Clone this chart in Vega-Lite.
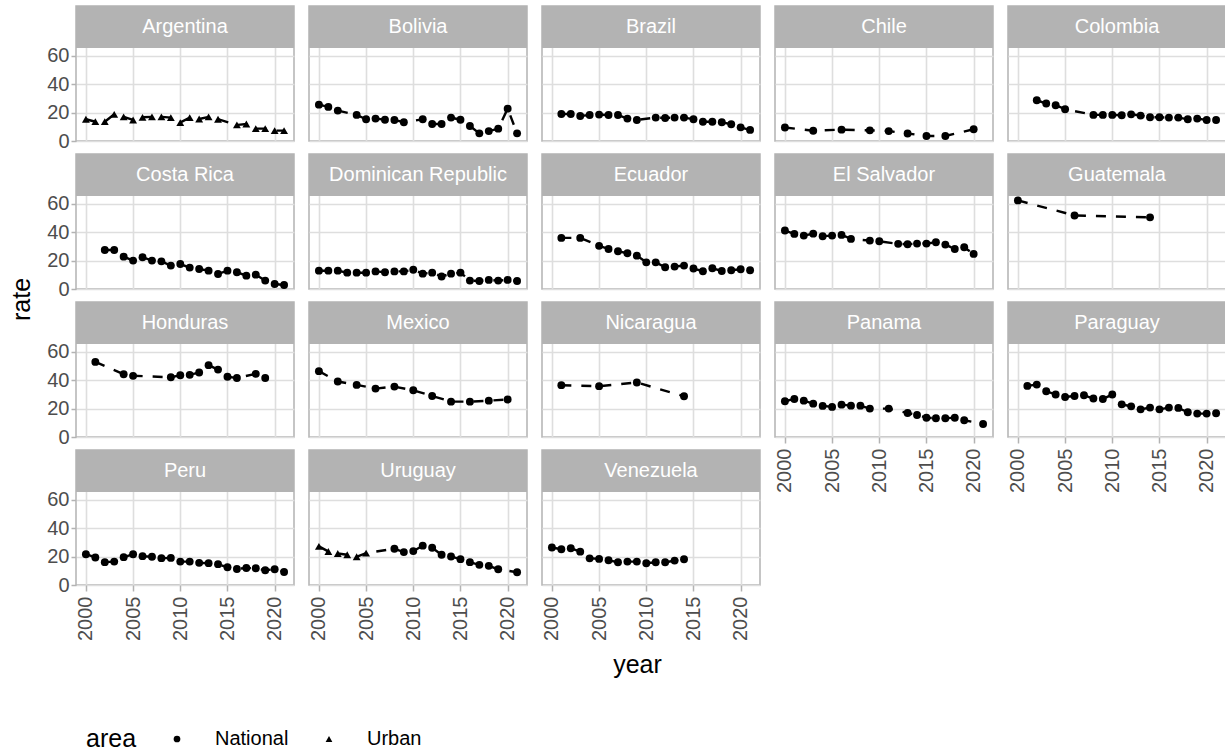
{
  "$schema": "https://vega.github.io/schema/vega-lite/v6.json",
  "background": "white",
  "padding": {"left": 9, "top": 5, "right": 0, "bottom": 0},
  "datasets": {
    "d": [
      {"country":"Argentina","year":2000,"rate":15.3,"area":"Urban"},
      {"country":"Argentina","year":2001,"rate":13.6,"area":"Urban"},
      {"country":"Argentina","year":2002,"rate":13.6,"area":"Urban"},
      {"country":"Argentina","year":2003,"rate":18.8,"area":"Urban"},
      {"country":"Argentina","year":2004,"rate":17.0,"area":"Urban"},
      {"country":"Argentina","year":2005,"rate":14.8,"area":"Urban"},
      {"country":"Argentina","year":2006,"rate":16.7,"area":"Urban"},
      {"country":"Argentina","year":2007,"rate":17.0,"area":"Urban"},
      {"country":"Argentina","year":2008,"rate":17.0,"area":"Urban"},
      {"country":"Argentina","year":2009,"rate":16.5,"area":"Urban"},
      {"country":"Argentina","year":2010,"rate":13.0,"area":"Urban"},
      {"country":"Argentina","year":2011,"rate":16.5,"area":"Urban"},
      {"country":"Argentina","year":2012,"rate":15.5,"area":"Urban"},
      {"country":"Argentina","year":2013,"rate":17.0,"area":"Urban"},
      {"country":"Argentina","year":2014,"rate":15.3,"area":"Urban"},
      {"country":"Argentina","year":2016,"rate":11.3,"area":"Urban"},
      {"country":"Argentina","year":2017,"rate":12.0,"area":"Urban"},
      {"country":"Argentina","year":2018,"rate":8.7,"area":"Urban"},
      {"country":"Argentina","year":2019,"rate":8.7,"area":"Urban"},
      {"country":"Argentina","year":2020,"rate":7.3,"area":"Urban"},
      {"country":"Argentina","year":2021,"rate":7.3,"area":"Urban"},
      {"country":"Bolivia","year":2000,"rate":25.6,"area":"National"},
      {"country":"Bolivia","year":2001,"rate":24.0,"area":"National"},
      {"country":"Bolivia","year":2002,"rate":21.4,"area":"National"},
      {"country":"Bolivia","year":2004,"rate":18.4,"area":"National"},
      {"country":"Bolivia","year":2005,"rate":15.3,"area":"National"},
      {"country":"Bolivia","year":2006,"rate":15.8,"area":"National"},
      {"country":"Bolivia","year":2007,"rate":15.0,"area":"National"},
      {"country":"Bolivia","year":2008,"rate":14.8,"area":"National"},
      {"country":"Bolivia","year":2009,"rate":13.2,"area":"National"},
      {"country":"Bolivia","year":2011,"rate":15.3,"area":"National"},
      {"country":"Bolivia","year":2012,"rate":12.0,"area":"National"},
      {"country":"Bolivia","year":2013,"rate":12.0,"area":"National"},
      {"country":"Bolivia","year":2014,"rate":16.5,"area":"National"},
      {"country":"Bolivia","year":2015,"rate":15.0,"area":"National"},
      {"country":"Bolivia","year":2016,"rate":10.6,"area":"National"},
      {"country":"Bolivia","year":2017,"rate":5.4,"area":"National"},
      {"country":"Bolivia","year":2018,"rate":7.0,"area":"National"},
      {"country":"Bolivia","year":2019,"rate":8.7,"area":"National"},
      {"country":"Bolivia","year":2020,"rate":22.8,"area":"National"},
      {"country":"Bolivia","year":2021,"rate":5.4,"area":"National"},
      {"country":"Brazil","year":2001,"rate":19.0,"area":"National"},
      {"country":"Brazil","year":2002,"rate":19.0,"area":"National"},
      {"country":"Brazil","year":2003,"rate":17.6,"area":"National"},
      {"country":"Brazil","year":2004,"rate":18.3,"area":"National"},
      {"country":"Brazil","year":2005,"rate":18.6,"area":"National"},
      {"country":"Brazil","year":2006,"rate":18.3,"area":"National"},
      {"country":"Brazil","year":2007,"rate":18.3,"area":"National"},
      {"country":"Brazil","year":2008,"rate":15.8,"area":"National"},
      {"country":"Brazil","year":2009,"rate":14.8,"area":"National"},
      {"country":"Brazil","year":2011,"rate":16.5,"area":"National"},
      {"country":"Brazil","year":2012,"rate":16.2,"area":"National"},
      {"country":"Brazil","year":2013,"rate":16.5,"area":"National"},
      {"country":"Brazil","year":2014,"rate":16.5,"area":"National"},
      {"country":"Brazil","year":2015,"rate":15.3,"area":"National"},
      {"country":"Brazil","year":2016,"rate":13.6,"area":"National"},
      {"country":"Brazil","year":2017,"rate":13.6,"area":"National"},
      {"country":"Brazil","year":2018,"rate":13.2,"area":"National"},
      {"country":"Brazil","year":2019,"rate":11.8,"area":"National"},
      {"country":"Brazil","year":2020,"rate":9.6,"area":"National"},
      {"country":"Brazil","year":2021,"rate":7.8,"area":"National"},
      {"country":"Chile","year":2000,"rate":9.5,"area":"National"},
      {"country":"Chile","year":2003,"rate":7.2,"area":"National"},
      {"country":"Chile","year":2006,"rate":8.0,"area":"National"},
      {"country":"Chile","year":2009,"rate":7.5,"area":"National"},
      {"country":"Chile","year":2011,"rate":7.0,"area":"National"},
      {"country":"Chile","year":2013,"rate":5.3,"area":"National"},
      {"country":"Chile","year":2015,"rate":3.5,"area":"National"},
      {"country":"Chile","year":2017,"rate":3.5,"area":"National"},
      {"country":"Chile","year":2020,"rate":8.3,"area":"National"},
      {"country":"Colombia","year":2002,"rate":28.7,"area":"National"},
      {"country":"Colombia","year":2003,"rate":26.4,"area":"National"},
      {"country":"Colombia","year":2004,"rate":25.2,"area":"National"},
      {"country":"Colombia","year":2005,"rate":22.4,"area":"National"},
      {"country":"Colombia","year":2008,"rate":18.4,"area":"National"},
      {"country":"Colombia","year":2009,"rate":18.4,"area":"National"},
      {"country":"Colombia","year":2010,"rate":18.4,"area":"National"},
      {"country":"Colombia","year":2011,"rate":18.1,"area":"National"},
      {"country":"Colombia","year":2012,"rate":18.8,"area":"National"},
      {"country":"Colombia","year":2013,"rate":17.9,"area":"National"},
      {"country":"Colombia","year":2014,"rate":16.7,"area":"National"},
      {"country":"Colombia","year":2015,"rate":16.7,"area":"National"},
      {"country":"Colombia","year":2016,"rate":16.5,"area":"National"},
      {"country":"Colombia","year":2017,"rate":16.5,"area":"National"},
      {"country":"Colombia","year":2018,"rate":15.3,"area":"National"},
      {"country":"Colombia","year":2019,"rate":15.8,"area":"National"},
      {"country":"Colombia","year":2020,"rate":14.8,"area":"National"},
      {"country":"Colombia","year":2021,"rate":14.8,"area":"National"},
      {"country":"Costa Rica","year":2002,"rate":27.5,"area":"National"},
      {"country":"Costa Rica","year":2003,"rate":27.5,"area":"National"},
      {"country":"Costa Rica","year":2004,"rate":22.8,"area":"National"},
      {"country":"Costa Rica","year":2005,"rate":20.0,"area":"National"},
      {"country":"Costa Rica","year":2006,"rate":22.4,"area":"National"},
      {"country":"Costa Rica","year":2007,"rate":20.0,"area":"National"},
      {"country":"Costa Rica","year":2008,"rate":19.5,"area":"National"},
      {"country":"Costa Rica","year":2009,"rate":16.5,"area":"National"},
      {"country":"Costa Rica","year":2010,"rate":17.6,"area":"National"},
      {"country":"Costa Rica","year":2011,"rate":15.1,"area":"National"},
      {"country":"Costa Rica","year":2012,"rate":14.1,"area":"National"},
      {"country":"Costa Rica","year":2013,"rate":12.9,"area":"National"},
      {"country":"Costa Rica","year":2014,"rate":10.6,"area":"National"},
      {"country":"Costa Rica","year":2015,"rate":12.9,"area":"National"},
      {"country":"Costa Rica","year":2016,"rate":11.8,"area":"National"},
      {"country":"Costa Rica","year":2017,"rate":9.4,"area":"National"},
      {"country":"Costa Rica","year":2018,"rate":10.1,"area":"National"},
      {"country":"Costa Rica","year":2019,"rate":5.9,"area":"National"},
      {"country":"Costa Rica","year":2020,"rate":3.5,"area":"National"},
      {"country":"Costa Rica","year":2021,"rate":2.8,"area":"National"},
      {"country":"Dominican Republic","year":2000,"rate":12.9,"area":"National"},
      {"country":"Dominican Republic","year":2001,"rate":12.9,"area":"National"},
      {"country":"Dominican Republic","year":2002,"rate":12.9,"area":"National"},
      {"country":"Dominican Republic","year":2003,"rate":11.5,"area":"National"},
      {"country":"Dominican Republic","year":2004,"rate":11.5,"area":"National"},
      {"country":"Dominican Republic","year":2005,"rate":11.5,"area":"National"},
      {"country":"Dominican Republic","year":2006,"rate":12.4,"area":"National"},
      {"country":"Dominican Republic","year":2007,"rate":11.8,"area":"National"},
      {"country":"Dominican Republic","year":2008,"rate":12.4,"area":"National"},
      {"country":"Dominican Republic","year":2009,"rate":12.4,"area":"National"},
      {"country":"Dominican Republic","year":2010,"rate":13.6,"area":"National"},
      {"country":"Dominican Republic","year":2011,"rate":10.8,"area":"National"},
      {"country":"Dominican Republic","year":2012,"rate":11.5,"area":"National"},
      {"country":"Dominican Republic","year":2013,"rate":8.8,"area":"National"},
      {"country":"Dominican Republic","year":2014,"rate":10.8,"area":"National"},
      {"country":"Dominican Republic","year":2015,"rate":11.5,"area":"National"},
      {"country":"Dominican Republic","year":2016,"rate":5.9,"area":"National"},
      {"country":"Dominican Republic","year":2017,"rate":5.6,"area":"National"},
      {"country":"Dominican Republic","year":2018,"rate":6.4,"area":"National"},
      {"country":"Dominican Republic","year":2019,"rate":5.9,"area":"National"},
      {"country":"Dominican Republic","year":2020,"rate":6.4,"area":"National"},
      {"country":"Dominican Republic","year":2021,"rate":5.6,"area":"National"},
      {"country":"Ecuador","year":2001,"rate":36.0,"area":"National"},
      {"country":"Ecuador","year":2003,"rate":36.0,"area":"National"},
      {"country":"Ecuador","year":2005,"rate":30.4,"area":"National"},
      {"country":"Ecuador","year":2006,"rate":28.2,"area":"National"},
      {"country":"Ecuador","year":2007,"rate":26.6,"area":"National"},
      {"country":"Ecuador","year":2008,"rate":25.2,"area":"National"},
      {"country":"Ecuador","year":2009,"rate":23.5,"area":"National"},
      {"country":"Ecuador","year":2010,"rate":18.8,"area":"National"},
      {"country":"Ecuador","year":2011,"rate":18.8,"area":"National"},
      {"country":"Ecuador","year":2012,"rate":15.3,"area":"National"},
      {"country":"Ecuador","year":2013,"rate":15.8,"area":"National"},
      {"country":"Ecuador","year":2014,"rate":16.5,"area":"National"},
      {"country":"Ecuador","year":2015,"rate":14.4,"area":"National"},
      {"country":"Ecuador","year":2016,"rate":12.5,"area":"National"},
      {"country":"Ecuador","year":2017,"rate":14.6,"area":"National"},
      {"country":"Ecuador","year":2018,"rate":12.7,"area":"National"},
      {"country":"Ecuador","year":2019,"rate":13.2,"area":"National"},
      {"country":"Ecuador","year":2020,"rate":13.9,"area":"National"},
      {"country":"Ecuador","year":2021,"rate":13.2,"area":"National"},
      {"country":"El Salvador","year":2000,"rate":41.2,"area":"National"},
      {"country":"El Salvador","year":2001,"rate":38.8,"area":"National"},
      {"country":"El Salvador","year":2002,"rate":37.6,"area":"National"},
      {"country":"El Salvador","year":2003,"rate":39.0,"area":"National"},
      {"country":"El Salvador","year":2004,"rate":37.2,"area":"National"},
      {"country":"El Salvador","year":2005,"rate":37.6,"area":"National"},
      {"country":"El Salvador","year":2006,"rate":38.1,"area":"National"},
      {"country":"El Salvador","year":2007,"rate":35.3,"area":"National"},
      {"country":"El Salvador","year":2009,"rate":34.1,"area":"National"},
      {"country":"El Salvador","year":2010,"rate":33.6,"area":"National"},
      {"country":"El Salvador","year":2012,"rate":31.8,"area":"National"},
      {"country":"El Salvador","year":2013,"rate":31.5,"area":"National"},
      {"country":"El Salvador","year":2014,"rate":32.0,"area":"National"},
      {"country":"El Salvador","year":2015,"rate":32.0,"area":"National"},
      {"country":"El Salvador","year":2016,"rate":32.9,"area":"National"},
      {"country":"El Salvador","year":2017,"rate":31.3,"area":"National"},
      {"country":"El Salvador","year":2018,"rate":28.2,"area":"National"},
      {"country":"El Salvador","year":2019,"rate":29.4,"area":"National"},
      {"country":"El Salvador","year":2020,"rate":24.7,"area":"National"},
      {"country":"Guatemala","year":2000,"rate":62.4,"area":"National"},
      {"country":"Guatemala","year":2006,"rate":51.8,"area":"National"},
      {"country":"Guatemala","year":2014,"rate":50.5,"area":"National"},
      {"country":"Honduras","year":2001,"rate":52.9,"area":"National"},
      {"country":"Honduras","year":2004,"rate":44.2,"area":"National"},
      {"country":"Honduras","year":2005,"rate":43.1,"area":"National"},
      {"country":"Honduras","year":2009,"rate":42.1,"area":"National"},
      {"country":"Honduras","year":2010,"rate":43.5,"area":"National"},
      {"country":"Honduras","year":2011,"rate":43.8,"area":"National"},
      {"country":"Honduras","year":2012,"rate":45.4,"area":"National"},
      {"country":"Honduras","year":2013,"rate":50.6,"area":"National"},
      {"country":"Honduras","year":2014,"rate":47.5,"area":"National"},
      {"country":"Honduras","year":2015,"rate":42.4,"area":"National"},
      {"country":"Honduras","year":2016,"rate":41.6,"area":"National"},
      {"country":"Honduras","year":2018,"rate":44.5,"area":"National"},
      {"country":"Honduras","year":2019,"rate":41.6,"area":"National"},
      {"country":"Mexico","year":2000,"rate":46.4,"area":"National"},
      {"country":"Mexico","year":2002,"rate":39.1,"area":"National"},
      {"country":"Mexico","year":2004,"rate":36.7,"area":"National"},
      {"country":"Mexico","year":2006,"rate":34.1,"area":"National"},
      {"country":"Mexico","year":2008,"rate":35.5,"area":"National"},
      {"country":"Mexico","year":2010,"rate":32.9,"area":"National"},
      {"country":"Mexico","year":2012,"rate":28.9,"area":"National"},
      {"country":"Mexico","year":2014,"rate":24.9,"area":"National"},
      {"country":"Mexico","year":2016,"rate":24.9,"area":"National"},
      {"country":"Mexico","year":2018,"rate":25.6,"area":"National"},
      {"country":"Mexico","year":2020,"rate":26.4,"area":"National"},
      {"country":"Nicaragua","year":2001,"rate":36.5,"area":"National"},
      {"country":"Nicaragua","year":2005,"rate":35.8,"area":"National"},
      {"country":"Nicaragua","year":2009,"rate":38.4,"area":"National"},
      {"country":"Nicaragua","year":2014,"rate":28.7,"area":"National"},
      {"country":"Panama","year":2000,"rate":25.2,"area":"National"},
      {"country":"Panama","year":2001,"rate":26.8,"area":"National"},
      {"country":"Panama","year":2002,"rate":25.6,"area":"National"},
      {"country":"Panama","year":2003,"rate":23.5,"area":"National"},
      {"country":"Panama","year":2004,"rate":21.9,"area":"National"},
      {"country":"Panama","year":2005,"rate":21.2,"area":"National"},
      {"country":"Panama","year":2006,"rate":22.8,"area":"National"},
      {"country":"Panama","year":2007,"rate":22.1,"area":"National"},
      {"country":"Panama","year":2008,"rate":22.1,"area":"National"},
      {"country":"Panama","year":2009,"rate":20.0,"area":"National"},
      {"country":"Panama","year":2011,"rate":20.0,"area":"National"},
      {"country":"Panama","year":2013,"rate":16.9,"area":"National"},
      {"country":"Panama","year":2014,"rate":15.5,"area":"National"},
      {"country":"Panama","year":2015,"rate":13.6,"area":"National"},
      {"country":"Panama","year":2016,"rate":13.2,"area":"National"},
      {"country":"Panama","year":2017,"rate":13.2,"area":"National"},
      {"country":"Panama","year":2018,"rate":13.6,"area":"National"},
      {"country":"Panama","year":2019,"rate":11.8,"area":"National"},
      {"country":"Panama","year":2021,"rate":9.2,"area":"National"},
      {"country":"Paraguay","year":2001,"rate":36.0,"area":"National"},
      {"country":"Paraguay","year":2002,"rate":36.9,"area":"National"},
      {"country":"Paraguay","year":2003,"rate":32.2,"area":"National"},
      {"country":"Paraguay","year":2004,"rate":29.9,"area":"National"},
      {"country":"Paraguay","year":2005,"rate":28.2,"area":"National"},
      {"country":"Paraguay","year":2006,"rate":28.9,"area":"National"},
      {"country":"Paraguay","year":2007,"rate":29.4,"area":"National"},
      {"country":"Paraguay","year":2008,"rate":27.1,"area":"National"},
      {"country":"Paraguay","year":2009,"rate":26.8,"area":"National"},
      {"country":"Paraguay","year":2010,"rate":29.9,"area":"National"},
      {"country":"Paraguay","year":2011,"rate":23.0,"area":"National"},
      {"country":"Paraguay","year":2012,"rate":21.6,"area":"National"},
      {"country":"Paraguay","year":2013,"rate":19.5,"area":"National"},
      {"country":"Paraguay","year":2014,"rate":20.7,"area":"National"},
      {"country":"Paraguay","year":2015,"rate":19.5,"area":"National"},
      {"country":"Paraguay","year":2016,"rate":20.7,"area":"National"},
      {"country":"Paraguay","year":2017,"rate":20.5,"area":"National"},
      {"country":"Paraguay","year":2018,"rate":17.4,"area":"National"},
      {"country":"Paraguay","year":2019,"rate":16.5,"area":"National"},
      {"country":"Paraguay","year":2020,"rate":16.5,"area":"National"},
      {"country":"Paraguay","year":2021,"rate":16.7,"area":"National"},
      {"country":"Peru","year":2000,"rate":21.7,"area":"National"},
      {"country":"Peru","year":2001,"rate":19.4,"area":"National"},
      {"country":"Peru","year":2002,"rate":16.1,"area":"National"},
      {"country":"Peru","year":2003,"rate":16.5,"area":"National"},
      {"country":"Peru","year":2004,"rate":19.6,"area":"National"},
      {"country":"Peru","year":2005,"rate":21.7,"area":"National"},
      {"country":"Peru","year":2006,"rate":20.3,"area":"National"},
      {"country":"Peru","year":2007,"rate":19.9,"area":"National"},
      {"country":"Peru","year":2008,"rate":18.9,"area":"National"},
      {"country":"Peru","year":2009,"rate":19.1,"area":"National"},
      {"country":"Peru","year":2010,"rate":16.5,"area":"National"},
      {"country":"Peru","year":2011,"rate":16.5,"area":"National"},
      {"country":"Peru","year":2012,"rate":15.6,"area":"National"},
      {"country":"Peru","year":2013,"rate":15.4,"area":"National"},
      {"country":"Peru","year":2014,"rate":14.7,"area":"National"},
      {"country":"Peru","year":2015,"rate":12.5,"area":"National"},
      {"country":"Peru","year":2016,"rate":11.3,"area":"National"},
      {"country":"Peru","year":2017,"rate":12.0,"area":"National"},
      {"country":"Peru","year":2018,"rate":11.8,"area":"National"},
      {"country":"Peru","year":2019,"rate":10.4,"area":"National"},
      {"country":"Peru","year":2020,"rate":11.1,"area":"National"},
      {"country":"Peru","year":2021,"rate":9.2,"area":"National"},
      {"country":"Uruguay","year":2000,"rate":27.2,"area":"Urban"},
      {"country":"Uruguay","year":2001,"rate":23.6,"area":"Urban"},
      {"country":"Uruguay","year":2002,"rate":22.2,"area":"Urban"},
      {"country":"Uruguay","year":2003,"rate":21.3,"area":"Urban"},
      {"country":"Uruguay","year":2004,"rate":19.9,"area":"Urban"},
      {"country":"Uruguay","year":2005,"rate":22.5,"area":"Urban"},
      {"country":"Uruguay","year":2008,"rate":25.5,"area":"National"},
      {"country":"Uruguay","year":2009,"rate":23.2,"area":"National"},
      {"country":"Uruguay","year":2010,"rate":23.9,"area":"National"},
      {"country":"Uruguay","year":2011,"rate":27.7,"area":"National"},
      {"country":"Uruguay","year":2012,"rate":26.2,"area":"National"},
      {"country":"Uruguay","year":2013,"rate":21.3,"area":"National"},
      {"country":"Uruguay","year":2014,"rate":20.1,"area":"National"},
      {"country":"Uruguay","year":2015,"rate":18.2,"area":"National"},
      {"country":"Uruguay","year":2016,"rate":16.1,"area":"National"},
      {"country":"Uruguay","year":2017,"rate":14.2,"area":"National"},
      {"country":"Uruguay","year":2018,"rate":13.5,"area":"National"},
      {"country":"Uruguay","year":2019,"rate":11.1,"area":"National"},
      {"country":"Uruguay","year":2021,"rate":9.0,"area":"National"},
      {"country":"Venezuela","year":2000,"rate":26.4,"area":"National"},
      {"country":"Venezuela","year":2001,"rate":25.2,"area":"National"},
      {"country":"Venezuela","year":2002,"rate":25.9,"area":"National"},
      {"country":"Venezuela","year":2003,"rate":23.5,"area":"National"},
      {"country":"Venezuela","year":2004,"rate":18.8,"area":"National"},
      {"country":"Venezuela","year":2005,"rate":18.4,"area":"National"},
      {"country":"Venezuela","year":2006,"rate":17.4,"area":"National"},
      {"country":"Venezuela","year":2007,"rate":16.0,"area":"National"},
      {"country":"Venezuela","year":2008,"rate":16.5,"area":"National"},
      {"country":"Venezuela","year":2009,"rate":16.5,"area":"National"},
      {"country":"Venezuela","year":2010,"rate":15.3,"area":"National"},
      {"country":"Venezuela","year":2011,"rate":16.0,"area":"National"},
      {"country":"Venezuela","year":2012,"rate":16.0,"area":"National"},
      {"country":"Venezuela","year":2013,"rate":17.2,"area":"National"},
      {"country":"Venezuela","year":2014,"rate":18.1,"area":"National"}
    ]
  },
  "columns": 5,
  "bounds": "flush",
  "spacing": {"row": 13, "column": 15},
  "resolve": {"scale": {"shape": "shared"}, "legend": {"shape": "shared"}},
  "concat": [
    {"width":218,"height":135,"layer":[
      {"data":{"values":[{"country":"Argentina"}]},"layer":[
        {"mark":"rect","encoding":{"x":{"datum":1998.95,"type":"quantitative"},"x2":{"datum":2022.05},"y":{"datum":65.5,"type":"quantitative"},"y2":{"datum":95.1}}},
        {"mark":"text","encoding":{"x":{"datum":2010.5,"type":"quantitative"},"y":{"datum":80.3,"type":"quantitative"},"text":{"field":"country"}}}]},
      {"data":{"name":"d"},"transform":[{"filter":"datum.country === 'Argentina'"}],
       "encoding":{"x":{"field":"year","type":"quantitative","title":null,"scale":{"domain":[1998.95,2022.05],"nice":false,"zero":false},"axis":{"grid":true,"values":[2000,2002.5,2005,2007.5,2010,2012.5,2015,2017.5,2020],"labels":false,"ticks":false,"gridWidth":{"condition":{"test":"datum.value % 5 !== 0","value":0.8},"value":1.6}}},
                   "y":{"field":"rate","type":"quantitative","title":null,"scale":{"domain":[0,95.1],"nice":false,"zero":false},"axis":{"grid":true,"values":[0,10,20,30,40,50,60],"labelExpr":"datum.value % 20 === 0 ? datum.label : ''","tickOpacity":{"condition":{"test":"datum.value % 20 !== 0","value":0},"value":1},"gridWidth":{"condition":{"test":"datum.value % 20 !== 0","value":0.8},"value":1.6}}}},
       "layer":[{"mark":"line","encoding":{}},
                {"mark":"point","encoding":{"shape":{"field":"area","type":"nominal","title":"area","scale":{"domain":["National","Urban"],"range":["circle","triangle-up"]},"legend":{"orient":"none","legendX":10,"legendY":723,"direction":"horizontal","titleOrient":"left"}}}}]}
    ]},
    {"width":218,"height":135,"layer":[
      {"data":{"values":[{"country":"Bolivia"}]},"layer":[
        {"mark":"rect","encoding":{"x":{"datum":1998.95,"type":"quantitative"},"x2":{"datum":2022.05},"y":{"datum":65.5,"type":"quantitative"},"y2":{"datum":95.1}}},
        {"mark":"text","encoding":{"x":{"datum":2010.5,"type":"quantitative"},"y":{"datum":80.3,"type":"quantitative"},"text":{"field":"country"}}}]},
      {"data":{"name":"d"},"transform":[{"filter":"datum.country === 'Bolivia'"}],
       "encoding":{"x":{"field":"year","type":"quantitative","title":null,"scale":{"domain":[1998.95,2022.05],"nice":false,"zero":false},"axis":{"grid":true,"values":[2000,2002.5,2005,2007.5,2010,2012.5,2015,2017.5,2020],"labels":false,"ticks":false,"gridWidth":{"condition":{"test":"datum.value % 5 !== 0","value":0.8},"value":1.6}}},
                   "y":{"field":"rate","type":"quantitative","title":null,"scale":{"domain":[0,95.1],"nice":false,"zero":false},"axis":{"grid":true,"values":[0,10,20,30,40,50,60],"labels":false,"ticks":false,"gridWidth":{"condition":{"test":"datum.value % 20 !== 0","value":0.8},"value":1.6}}}},
       "layer":[{"mark":"line","encoding":{}},
                {"mark":"point","encoding":{"shape":{"field":"area","type":"nominal","title":"area","scale":{"domain":["National","Urban"],"range":["circle","triangle-up"]},"legend":{"orient":"none","legendX":10,"legendY":723,"direction":"horizontal","titleOrient":"left"}}}}]}
    ]},
    {"width":218,"height":135,"layer":[
      {"data":{"values":[{"country":"Brazil"}]},"layer":[
        {"mark":"rect","encoding":{"x":{"datum":1998.95,"type":"quantitative"},"x2":{"datum":2022.05},"y":{"datum":65.5,"type":"quantitative"},"y2":{"datum":95.1}}},
        {"mark":"text","encoding":{"x":{"datum":2010.5,"type":"quantitative"},"y":{"datum":80.3,"type":"quantitative"},"text":{"field":"country"}}}]},
      {"data":{"name":"d"},"transform":[{"filter":"datum.country === 'Brazil'"}],
       "encoding":{"x":{"field":"year","type":"quantitative","title":null,"scale":{"domain":[1998.95,2022.05],"nice":false,"zero":false},"axis":{"grid":true,"values":[2000,2002.5,2005,2007.5,2010,2012.5,2015,2017.5,2020],"labels":false,"ticks":false,"gridWidth":{"condition":{"test":"datum.value % 5 !== 0","value":0.8},"value":1.6}}},
                   "y":{"field":"rate","type":"quantitative","title":null,"scale":{"domain":[0,95.1],"nice":false,"zero":false},"axis":{"grid":true,"values":[0,10,20,30,40,50,60],"labels":false,"ticks":false,"gridWidth":{"condition":{"test":"datum.value % 20 !== 0","value":0.8},"value":1.6}}}},
       "layer":[{"mark":"line","encoding":{}},
                {"mark":"point","encoding":{"shape":{"field":"area","type":"nominal","title":"area","scale":{"domain":["National","Urban"],"range":["circle","triangle-up"]},"legend":{"orient":"none","legendX":10,"legendY":723,"direction":"horizontal","titleOrient":"left"}}}}]}
    ]},
    {"width":218,"height":135,"layer":[
      {"data":{"values":[{"country":"Chile"}]},"layer":[
        {"mark":"rect","encoding":{"x":{"datum":1998.95,"type":"quantitative"},"x2":{"datum":2022.05},"y":{"datum":65.5,"type":"quantitative"},"y2":{"datum":95.1}}},
        {"mark":"text","encoding":{"x":{"datum":2010.5,"type":"quantitative"},"y":{"datum":80.3,"type":"quantitative"},"text":{"field":"country"}}}]},
      {"data":{"name":"d"},"transform":[{"filter":"datum.country === 'Chile'"}],
       "encoding":{"x":{"field":"year","type":"quantitative","title":null,"scale":{"domain":[1998.95,2022.05],"nice":false,"zero":false},"axis":{"grid":true,"values":[2000,2002.5,2005,2007.5,2010,2012.5,2015,2017.5,2020],"labels":false,"ticks":false,"gridWidth":{"condition":{"test":"datum.value % 5 !== 0","value":0.8},"value":1.6}}},
                   "y":{"field":"rate","type":"quantitative","title":null,"scale":{"domain":[0,95.1],"nice":false,"zero":false},"axis":{"grid":true,"values":[0,10,20,30,40,50,60],"labels":false,"ticks":false,"gridWidth":{"condition":{"test":"datum.value % 20 !== 0","value":0.8},"value":1.6}}}},
       "layer":[{"mark":"line","encoding":{}},
                {"mark":"point","encoding":{"shape":{"field":"area","type":"nominal","title":"area","scale":{"domain":["National","Urban"],"range":["circle","triangle-up"]},"legend":{"orient":"none","legendX":10,"legendY":723,"direction":"horizontal","titleOrient":"left"}}}}]}
    ]},
    {"width":218,"height":135,"layer":[
      {"data":{"values":[{"country":"Colombia"}]},"layer":[
        {"mark":"rect","encoding":{"x":{"datum":1998.95,"type":"quantitative"},"x2":{"datum":2022.05},"y":{"datum":65.5,"type":"quantitative"},"y2":{"datum":95.1}}},
        {"mark":"text","encoding":{"x":{"datum":2010.5,"type":"quantitative"},"y":{"datum":80.3,"type":"quantitative"},"text":{"field":"country"}}}]},
      {"data":{"name":"d"},"transform":[{"filter":"datum.country === 'Colombia'"}],
       "encoding":{"x":{"field":"year","type":"quantitative","title":null,"scale":{"domain":[1998.95,2022.05],"nice":false,"zero":false},"axis":{"grid":true,"values":[2000,2002.5,2005,2007.5,2010,2012.5,2015,2017.5,2020],"labels":false,"ticks":false,"gridWidth":{"condition":{"test":"datum.value % 5 !== 0","value":0.8},"value":1.6}}},
                   "y":{"field":"rate","type":"quantitative","title":null,"scale":{"domain":[0,95.1],"nice":false,"zero":false},"axis":{"grid":true,"values":[0,10,20,30,40,50,60],"labels":false,"ticks":false,"gridWidth":{"condition":{"test":"datum.value % 20 !== 0","value":0.8},"value":1.6}}}},
       "layer":[{"mark":"line","encoding":{}},
                {"mark":"point","encoding":{"shape":{"field":"area","type":"nominal","title":"area","scale":{"domain":["National","Urban"],"range":["circle","triangle-up"]},"legend":{"orient":"none","legendX":10,"legendY":723,"direction":"horizontal","titleOrient":"left"}}}}]}
    ]},
    {"width":218,"height":135,"layer":[
      {"data":{"values":[{"country":"Costa Rica"}]},"layer":[
        {"mark":"rect","encoding":{"x":{"datum":1998.95,"type":"quantitative"},"x2":{"datum":2022.05},"y":{"datum":65.5,"type":"quantitative"},"y2":{"datum":95.1}}},
        {"mark":"text","encoding":{"x":{"datum":2010.5,"type":"quantitative"},"y":{"datum":80.3,"type":"quantitative"},"text":{"field":"country"}}}]},
      {"data":{"name":"d"},"transform":[{"filter":"datum.country === 'Costa Rica'"}],
       "encoding":{"x":{"field":"year","type":"quantitative","title":null,"scale":{"domain":[1998.95,2022.05],"nice":false,"zero":false},"axis":{"grid":true,"values":[2000,2002.5,2005,2007.5,2010,2012.5,2015,2017.5,2020],"labels":false,"ticks":false,"gridWidth":{"condition":{"test":"datum.value % 5 !== 0","value":0.8},"value":1.6}}},
                   "y":{"field":"rate","type":"quantitative","title":"rate","scale":{"domain":[0,95.1],"nice":false,"zero":false},"axis":{"grid":true,"values":[0,10,20,30,40,50,60],"labelExpr":"datum.value % 20 === 0 ? datum.label : ''","tickOpacity":{"condition":{"test":"datum.value % 20 !== 0","value":0},"value":1},"gridWidth":{"condition":{"test":"datum.value % 20 !== 0","value":0.8},"value":1.6},"titleY":145,"titlePadding":12}}},
       "layer":[{"mark":"line","encoding":{}},
                {"mark":"point","encoding":{"shape":{"field":"area","type":"nominal","title":"area","scale":{"domain":["National","Urban"],"range":["circle","triangle-up"]},"legend":{"orient":"none","legendX":10,"legendY":723,"direction":"horizontal","titleOrient":"left"}}}}]}
    ]},
    {"width":218,"height":135,"layer":[
      {"data":{"values":[{"country":"Dominican Republic"}]},"layer":[
        {"mark":"rect","encoding":{"x":{"datum":1998.95,"type":"quantitative"},"x2":{"datum":2022.05},"y":{"datum":65.5,"type":"quantitative"},"y2":{"datum":95.1}}},
        {"mark":"text","encoding":{"x":{"datum":2010.5,"type":"quantitative"},"y":{"datum":80.3,"type":"quantitative"},"text":{"field":"country"}}}]},
      {"data":{"name":"d"},"transform":[{"filter":"datum.country === 'Dominican Republic'"}],
       "encoding":{"x":{"field":"year","type":"quantitative","title":null,"scale":{"domain":[1998.95,2022.05],"nice":false,"zero":false},"axis":{"grid":true,"values":[2000,2002.5,2005,2007.5,2010,2012.5,2015,2017.5,2020],"labels":false,"ticks":false,"gridWidth":{"condition":{"test":"datum.value % 5 !== 0","value":0.8},"value":1.6}}},
                   "y":{"field":"rate","type":"quantitative","title":null,"scale":{"domain":[0,95.1],"nice":false,"zero":false},"axis":{"grid":true,"values":[0,10,20,30,40,50,60],"labels":false,"ticks":false,"gridWidth":{"condition":{"test":"datum.value % 20 !== 0","value":0.8},"value":1.6}}}},
       "layer":[{"mark":"line","encoding":{}},
                {"mark":"point","encoding":{"shape":{"field":"area","type":"nominal","title":"area","scale":{"domain":["National","Urban"],"range":["circle","triangle-up"]},"legend":{"orient":"none","legendX":10,"legendY":723,"direction":"horizontal","titleOrient":"left"}}}}]}
    ]},
    {"width":218,"height":135,"layer":[
      {"data":{"values":[{"country":"Ecuador"}]},"layer":[
        {"mark":"rect","encoding":{"x":{"datum":1998.95,"type":"quantitative"},"x2":{"datum":2022.05},"y":{"datum":65.5,"type":"quantitative"},"y2":{"datum":95.1}}},
        {"mark":"text","encoding":{"x":{"datum":2010.5,"type":"quantitative"},"y":{"datum":80.3,"type":"quantitative"},"text":{"field":"country"}}}]},
      {"data":{"name":"d"},"transform":[{"filter":"datum.country === 'Ecuador'"}],
       "encoding":{"x":{"field":"year","type":"quantitative","title":null,"scale":{"domain":[1998.95,2022.05],"nice":false,"zero":false},"axis":{"grid":true,"values":[2000,2002.5,2005,2007.5,2010,2012.5,2015,2017.5,2020],"labels":false,"ticks":false,"gridWidth":{"condition":{"test":"datum.value % 5 !== 0","value":0.8},"value":1.6}}},
                   "y":{"field":"rate","type":"quantitative","title":null,"scale":{"domain":[0,95.1],"nice":false,"zero":false},"axis":{"grid":true,"values":[0,10,20,30,40,50,60],"labels":false,"ticks":false,"gridWidth":{"condition":{"test":"datum.value % 20 !== 0","value":0.8},"value":1.6}}}},
       "layer":[{"mark":"line","encoding":{}},
                {"mark":"point","encoding":{"shape":{"field":"area","type":"nominal","title":"area","scale":{"domain":["National","Urban"],"range":["circle","triangle-up"]},"legend":{"orient":"none","legendX":10,"legendY":723,"direction":"horizontal","titleOrient":"left"}}}}]}
    ]},
    {"width":218,"height":135,"layer":[
      {"data":{"values":[{"country":"El Salvador"}]},"layer":[
        {"mark":"rect","encoding":{"x":{"datum":1998.95,"type":"quantitative"},"x2":{"datum":2022.05},"y":{"datum":65.5,"type":"quantitative"},"y2":{"datum":95.1}}},
        {"mark":"text","encoding":{"x":{"datum":2010.5,"type":"quantitative"},"y":{"datum":80.3,"type":"quantitative"},"text":{"field":"country"}}}]},
      {"data":{"name":"d"},"transform":[{"filter":"datum.country === 'El Salvador'"}],
       "encoding":{"x":{"field":"year","type":"quantitative","title":null,"scale":{"domain":[1998.95,2022.05],"nice":false,"zero":false},"axis":{"grid":true,"values":[2000,2002.5,2005,2007.5,2010,2012.5,2015,2017.5,2020],"labels":false,"ticks":false,"gridWidth":{"condition":{"test":"datum.value % 5 !== 0","value":0.8},"value":1.6}}},
                   "y":{"field":"rate","type":"quantitative","title":null,"scale":{"domain":[0,95.1],"nice":false,"zero":false},"axis":{"grid":true,"values":[0,10,20,30,40,50,60],"labels":false,"ticks":false,"gridWidth":{"condition":{"test":"datum.value % 20 !== 0","value":0.8},"value":1.6}}}},
       "layer":[{"mark":"line","encoding":{}},
                {"mark":"point","encoding":{"shape":{"field":"area","type":"nominal","title":"area","scale":{"domain":["National","Urban"],"range":["circle","triangle-up"]},"legend":{"orient":"none","legendX":10,"legendY":723,"direction":"horizontal","titleOrient":"left"}}}}]}
    ]},
    {"width":218,"height":135,"layer":[
      {"data":{"values":[{"country":"Guatemala"}]},"layer":[
        {"mark":"rect","encoding":{"x":{"datum":1998.95,"type":"quantitative"},"x2":{"datum":2022.05},"y":{"datum":65.5,"type":"quantitative"},"y2":{"datum":95.1}}},
        {"mark":"text","encoding":{"x":{"datum":2010.5,"type":"quantitative"},"y":{"datum":80.3,"type":"quantitative"},"text":{"field":"country"}}}]},
      {"data":{"name":"d"},"transform":[{"filter":"datum.country === 'Guatemala'"}],
       "encoding":{"x":{"field":"year","type":"quantitative","title":null,"scale":{"domain":[1998.95,2022.05],"nice":false,"zero":false},"axis":{"grid":true,"values":[2000,2002.5,2005,2007.5,2010,2012.5,2015,2017.5,2020],"labels":false,"ticks":false,"gridWidth":{"condition":{"test":"datum.value % 5 !== 0","value":0.8},"value":1.6}}},
                   "y":{"field":"rate","type":"quantitative","title":null,"scale":{"domain":[0,95.1],"nice":false,"zero":false},"axis":{"grid":true,"values":[0,10,20,30,40,50,60],"labels":false,"ticks":false,"gridWidth":{"condition":{"test":"datum.value % 20 !== 0","value":0.8},"value":1.6}}}},
       "layer":[{"mark":"line","encoding":{}},
                {"mark":"point","encoding":{"shape":{"field":"area","type":"nominal","title":"area","scale":{"domain":["National","Urban"],"range":["circle","triangle-up"]},"legend":{"orient":"none","legendX":10,"legendY":723,"direction":"horizontal","titleOrient":"left"}}}}]}
    ]},
    {"width":218,"height":135,"layer":[
      {"data":{"values":[{"country":"Honduras"}]},"layer":[
        {"mark":"rect","encoding":{"x":{"datum":1998.95,"type":"quantitative"},"x2":{"datum":2022.05},"y":{"datum":65.5,"type":"quantitative"},"y2":{"datum":95.1}}},
        {"mark":"text","encoding":{"x":{"datum":2010.5,"type":"quantitative"},"y":{"datum":80.3,"type":"quantitative"},"text":{"field":"country"}}}]},
      {"data":{"name":"d"},"transform":[{"filter":"datum.country === 'Honduras'"}],
       "encoding":{"x":{"field":"year","type":"quantitative","title":null,"scale":{"domain":[1998.95,2022.05],"nice":false,"zero":false},"axis":{"grid":true,"values":[2000,2002.5,2005,2007.5,2010,2012.5,2015,2017.5,2020],"labels":false,"ticks":false,"gridWidth":{"condition":{"test":"datum.value % 5 !== 0","value":0.8},"value":1.6}}},
                   "y":{"field":"rate","type":"quantitative","title":null,"scale":{"domain":[0,95.1],"nice":false,"zero":false},"axis":{"grid":true,"values":[0,10,20,30,40,50,60],"labelExpr":"datum.value % 20 === 0 ? datum.label : ''","tickOpacity":{"condition":{"test":"datum.value % 20 !== 0","value":0},"value":1},"gridWidth":{"condition":{"test":"datum.value % 20 !== 0","value":0.8},"value":1.6}}}},
       "layer":[{"mark":"line","encoding":{}},
                {"mark":"point","encoding":{"shape":{"field":"area","type":"nominal","title":"area","scale":{"domain":["National","Urban"],"range":["circle","triangle-up"]},"legend":{"orient":"none","legendX":10,"legendY":723,"direction":"horizontal","titleOrient":"left"}}}}]}
    ]},
    {"width":218,"height":135,"layer":[
      {"data":{"values":[{"country":"Mexico"}]},"layer":[
        {"mark":"rect","encoding":{"x":{"datum":1998.95,"type":"quantitative"},"x2":{"datum":2022.05},"y":{"datum":65.5,"type":"quantitative"},"y2":{"datum":95.1}}},
        {"mark":"text","encoding":{"x":{"datum":2010.5,"type":"quantitative"},"y":{"datum":80.3,"type":"quantitative"},"text":{"field":"country"}}}]},
      {"data":{"name":"d"},"transform":[{"filter":"datum.country === 'Mexico'"}],
       "encoding":{"x":{"field":"year","type":"quantitative","title":null,"scale":{"domain":[1998.95,2022.05],"nice":false,"zero":false},"axis":{"grid":true,"values":[2000,2002.5,2005,2007.5,2010,2012.5,2015,2017.5,2020],"labels":false,"ticks":false,"gridWidth":{"condition":{"test":"datum.value % 5 !== 0","value":0.8},"value":1.6}}},
                   "y":{"field":"rate","type":"quantitative","title":null,"scale":{"domain":[0,95.1],"nice":false,"zero":false},"axis":{"grid":true,"values":[0,10,20,30,40,50,60],"labels":false,"ticks":false,"gridWidth":{"condition":{"test":"datum.value % 20 !== 0","value":0.8},"value":1.6}}}},
       "layer":[{"mark":"line","encoding":{}},
                {"mark":"point","encoding":{"shape":{"field":"area","type":"nominal","title":"area","scale":{"domain":["National","Urban"],"range":["circle","triangle-up"]},"legend":{"orient":"none","legendX":10,"legendY":723,"direction":"horizontal","titleOrient":"left"}}}}]}
    ]},
    {"width":218,"height":135,"layer":[
      {"data":{"values":[{"country":"Nicaragua"}]},"layer":[
        {"mark":"rect","encoding":{"x":{"datum":1998.95,"type":"quantitative"},"x2":{"datum":2022.05},"y":{"datum":65.5,"type":"quantitative"},"y2":{"datum":95.1}}},
        {"mark":"text","encoding":{"x":{"datum":2010.5,"type":"quantitative"},"y":{"datum":80.3,"type":"quantitative"},"text":{"field":"country"}}}]},
      {"data":{"name":"d"},"transform":[{"filter":"datum.country === 'Nicaragua'"}],
       "encoding":{"x":{"field":"year","type":"quantitative","title":null,"scale":{"domain":[1998.95,2022.05],"nice":false,"zero":false},"axis":{"grid":true,"values":[2000,2002.5,2005,2007.5,2010,2012.5,2015,2017.5,2020],"labels":false,"ticks":false,"gridWidth":{"condition":{"test":"datum.value % 5 !== 0","value":0.8},"value":1.6}}},
                   "y":{"field":"rate","type":"quantitative","title":null,"scale":{"domain":[0,95.1],"nice":false,"zero":false},"axis":{"grid":true,"values":[0,10,20,30,40,50,60],"labels":false,"ticks":false,"gridWidth":{"condition":{"test":"datum.value % 20 !== 0","value":0.8},"value":1.6}}}},
       "layer":[{"mark":"line","encoding":{}},
                {"mark":"point","encoding":{"shape":{"field":"area","type":"nominal","title":"area","scale":{"domain":["National","Urban"],"range":["circle","triangle-up"]},"legend":{"orient":"none","legendX":10,"legendY":723,"direction":"horizontal","titleOrient":"left"}}}}]}
    ]},
    {"width":218,"height":135,"layer":[
      {"data":{"values":[{"country":"Panama"}]},"layer":[
        {"mark":"rect","encoding":{"x":{"datum":1998.95,"type":"quantitative"},"x2":{"datum":2022.05},"y":{"datum":65.5,"type":"quantitative"},"y2":{"datum":95.1}}},
        {"mark":"text","encoding":{"x":{"datum":2010.5,"type":"quantitative"},"y":{"datum":80.3,"type":"quantitative"},"text":{"field":"country"}}}]},
      {"data":{"name":"d"},"transform":[{"filter":"datum.country === 'Panama'"}],
       "encoding":{"x":{"field":"year","type":"quantitative","title":null,"scale":{"domain":[1998.95,2022.05],"nice":false,"zero":false},"axis":{"grid":true,"values":[2000,2002.5,2005,2007.5,2010,2012.5,2015,2017.5,2020],"format":"d","labelExpr":"datum.value % 5 === 0 ? datum.label : ''","tickOpacity":{"condition":{"test":"datum.value % 5 !== 0","value":0},"value":1},"gridWidth":{"condition":{"test":"datum.value % 5 !== 0","value":0.8},"value":1.6},"labelAngle":270,"labelAlign":"right","labelBaseline":"middle","labelPadding":5,"tickSize":6}},
                   "y":{"field":"rate","type":"quantitative","title":null,"scale":{"domain":[0,95.1],"nice":false,"zero":false},"axis":{"grid":true,"values":[0,10,20,30,40,50,60],"labels":false,"ticks":false,"gridWidth":{"condition":{"test":"datum.value % 20 !== 0","value":0.8},"value":1.6}}}},
       "layer":[{"mark":"line","encoding":{}},
                {"mark":"point","encoding":{"shape":{"field":"area","type":"nominal","title":"area","scale":{"domain":["National","Urban"],"range":["circle","triangle-up"]},"legend":{"orient":"none","legendX":10,"legendY":723,"direction":"horizontal","titleOrient":"left"}}}}]}
    ]},
    {"width":218,"height":135,"layer":[
      {"data":{"values":[{"country":"Paraguay"}]},"layer":[
        {"mark":"rect","encoding":{"x":{"datum":1998.95,"type":"quantitative"},"x2":{"datum":2022.05},"y":{"datum":65.5,"type":"quantitative"},"y2":{"datum":95.1}}},
        {"mark":"text","encoding":{"x":{"datum":2010.5,"type":"quantitative"},"y":{"datum":80.3,"type":"quantitative"},"text":{"field":"country"}}}]},
      {"data":{"name":"d"},"transform":[{"filter":"datum.country === 'Paraguay'"}],
       "encoding":{"x":{"field":"year","type":"quantitative","title":null,"scale":{"domain":[1998.95,2022.05],"nice":false,"zero":false},"axis":{"grid":true,"values":[2000,2002.5,2005,2007.5,2010,2012.5,2015,2017.5,2020],"format":"d","labelExpr":"datum.value % 5 === 0 ? datum.label : ''","tickOpacity":{"condition":{"test":"datum.value % 5 !== 0","value":0},"value":1},"gridWidth":{"condition":{"test":"datum.value % 5 !== 0","value":0.8},"value":1.6},"labelAngle":270,"labelAlign":"right","labelBaseline":"middle","labelPadding":5,"tickSize":6}},
                   "y":{"field":"rate","type":"quantitative","title":null,"scale":{"domain":[0,95.1],"nice":false,"zero":false},"axis":{"grid":true,"values":[0,10,20,30,40,50,60],"labels":false,"ticks":false,"gridWidth":{"condition":{"test":"datum.value % 20 !== 0","value":0.8},"value":1.6}}}},
       "layer":[{"mark":"line","encoding":{}},
                {"mark":"point","encoding":{"shape":{"field":"area","type":"nominal","title":"area","scale":{"domain":["National","Urban"],"range":["circle","triangle-up"]},"legend":{"orient":"none","legendX":10,"legendY":723,"direction":"horizontal","titleOrient":"left"}}}}]}
    ]},
    {"width":218,"height":135,"layer":[
      {"data":{"values":[{"country":"Peru"}]},"layer":[
        {"mark":"rect","encoding":{"x":{"datum":1998.95,"type":"quantitative"},"x2":{"datum":2022.05},"y":{"datum":65.5,"type":"quantitative"},"y2":{"datum":95.1}}},
        {"mark":"text","encoding":{"x":{"datum":2010.5,"type":"quantitative"},"y":{"datum":80.3,"type":"quantitative"},"text":{"field":"country"}}}]},
      {"data":{"name":"d"},"transform":[{"filter":"datum.country === 'Peru'"}],
       "encoding":{"x":{"field":"year","type":"quantitative","title":null,"scale":{"domain":[1998.95,2022.05],"nice":false,"zero":false},"axis":{"grid":true,"values":[2000,2002.5,2005,2007.5,2010,2012.5,2015,2017.5,2020],"format":"d","labelExpr":"datum.value % 5 === 0 ? datum.label : ''","tickOpacity":{"condition":{"test":"datum.value % 5 !== 0","value":0},"value":1},"gridWidth":{"condition":{"test":"datum.value % 5 !== 0","value":0.8},"value":1.6},"labelAngle":270,"labelAlign":"right","labelBaseline":"middle","labelPadding":5,"tickSize":6}},
                   "y":{"field":"rate","type":"quantitative","title":null,"scale":{"domain":[0,95.1],"nice":false,"zero":false},"axis":{"grid":true,"values":[0,10,20,30,40,50,60],"labelExpr":"datum.value % 20 === 0 ? datum.label : ''","tickOpacity":{"condition":{"test":"datum.value % 20 !== 0","value":0},"value":1},"gridWidth":{"condition":{"test":"datum.value % 20 !== 0","value":0.8},"value":1.6}}}},
       "layer":[{"mark":"line","encoding":{}},
                {"mark":"point","encoding":{"shape":{"field":"area","type":"nominal","title":"area","scale":{"domain":["National","Urban"],"range":["circle","triangle-up"]},"legend":{"orient":"none","legendX":10,"legendY":723,"direction":"horizontal","titleOrient":"left"}}}}]}
    ]},
    {"width":218,"height":135,"layer":[
      {"data":{"values":[{"country":"Uruguay"}]},"layer":[
        {"mark":"rect","encoding":{"x":{"datum":1998.95,"type":"quantitative"},"x2":{"datum":2022.05},"y":{"datum":65.5,"type":"quantitative"},"y2":{"datum":95.1}}},
        {"mark":"text","encoding":{"x":{"datum":2010.5,"type":"quantitative"},"y":{"datum":80.3,"type":"quantitative"},"text":{"field":"country"}}}]},
      {"data":{"name":"d"},"transform":[{"filter":"datum.country === 'Uruguay'"}],
       "encoding":{"x":{"field":"year","type":"quantitative","title":null,"scale":{"domain":[1998.95,2022.05],"nice":false,"zero":false},"axis":{"grid":true,"values":[2000,2002.5,2005,2007.5,2010,2012.5,2015,2017.5,2020],"format":"d","labelExpr":"datum.value % 5 === 0 ? datum.label : ''","tickOpacity":{"condition":{"test":"datum.value % 5 !== 0","value":0},"value":1},"gridWidth":{"condition":{"test":"datum.value % 5 !== 0","value":0.8},"value":1.6},"labelAngle":270,"labelAlign":"right","labelBaseline":"middle","labelPadding":5,"tickSize":6}},
                   "y":{"field":"rate","type":"quantitative","title":null,"scale":{"domain":[0,95.1],"nice":false,"zero":false},"axis":{"grid":true,"values":[0,10,20,30,40,50,60],"labels":false,"ticks":false,"gridWidth":{"condition":{"test":"datum.value % 20 !== 0","value":0.8},"value":1.6}}}},
       "layer":[{"mark":"line","encoding":{}},
                {"mark":"point","encoding":{"shape":{"field":"area","type":"nominal","title":"area","scale":{"domain":["National","Urban"],"range":["circle","triangle-up"]},"legend":{"orient":"none","legendX":10,"legendY":723,"direction":"horizontal","titleOrient":"left"}}}}]}
    ]},
    {"width":218,"height":135,"layer":[
      {"data":{"values":[{"country":"Venezuela"}]},"layer":[
        {"mark":"rect","encoding":{"x":{"datum":1998.95,"type":"quantitative"},"x2":{"datum":2022.05},"y":{"datum":65.5,"type":"quantitative"},"y2":{"datum":95.1}}},
        {"mark":"text","encoding":{"x":{"datum":2010.5,"type":"quantitative"},"y":{"datum":80.3,"type":"quantitative"},"text":{"field":"country"}}}]},
      {"data":{"name":"d"},"transform":[{"filter":"datum.country === 'Venezuela'"}],
       "encoding":{"x":{"field":"year","type":"quantitative","title":"year","scale":{"domain":[1998.95,2022.05],"nice":false,"zero":false},"axis":{"grid":true,"values":[2000,2002.5,2005,2007.5,2010,2012.5,2015,2017.5,2020],"format":"d","labelExpr":"datum.value % 5 === 0 ? datum.label : ''","tickOpacity":{"condition":{"test":"datum.value % 5 !== 0","value":0},"value":1},"gridWidth":{"condition":{"test":"datum.value % 5 !== 0","value":0.8},"value":1.6},"labelAngle":270,"labelAlign":"right","labelBaseline":"middle","labelPadding":5,"tickSize":6,"titlePadding":12,"titleX":95}},
                   "y":{"field":"rate","type":"quantitative","title":null,"scale":{"domain":[0,95.1],"nice":false,"zero":false},"axis":{"grid":true,"values":[0,10,20,30,40,50,60],"labels":false,"ticks":false,"gridWidth":{"condition":{"test":"datum.value % 20 !== 0","value":0.8},"value":1.6}}}},
       "layer":[{"mark":"line","encoding":{}},
                {"mark":"point","encoding":{"shape":{"field":"area","type":"nominal","title":"area","scale":{"domain":["National","Urban"],"range":["circle","triangle-up"]},"legend":{"orient":"none","legendX":10,"legendY":723,"direction":"horizontal","titleOrient":"left"}}}}]}
    ]}
  ],
  "config": {
    "font": "Liberation Sans",
    "view": {"stroke": "#b3b3b3", "strokeWidth": 1.5},
    "rect": {"color": "#b3b3b3"},
    "text": {"color": "white", "fontSize": 20, "font": "Liberation Sans", "align": "center", "baseline": "middle"},
    "line": {"color": "black", "strokeWidth": 2.4, "strokeDash": [10, 10]},
    "point": {"filled": true, "color": "black", "opacity": 1, "size": 62},
    "axis": {
      "domain": false,
      "labelFont": "Liberation Sans", "labelFontSize": 20, "labelColor": "#4d4d4d",
      "tickColor": "#b3b3b3", "tickSize": 5, "tickWidth": 1.5,
      "gridColor": "#dedede",
      "titleFont": "Liberation Sans", "titleFontSize": 25, "titleFontWeight": "normal", "titleColor": "black"
    },
    "legend": {
      "titleFont": "Liberation Sans", "titleFontSize": 25, "titleFontWeight": "normal", "titleColor": "black",
      "labelFont": "Liberation Sans", "labelFontSize": 20, "labelColor": "black",
      "symbolSize": 45, "symbolFillColor": "black", "symbolStrokeColor": "black",
      "titlePadding": 30, "labelOffset": 28, "columnPadding": 30
    }
  }
}
